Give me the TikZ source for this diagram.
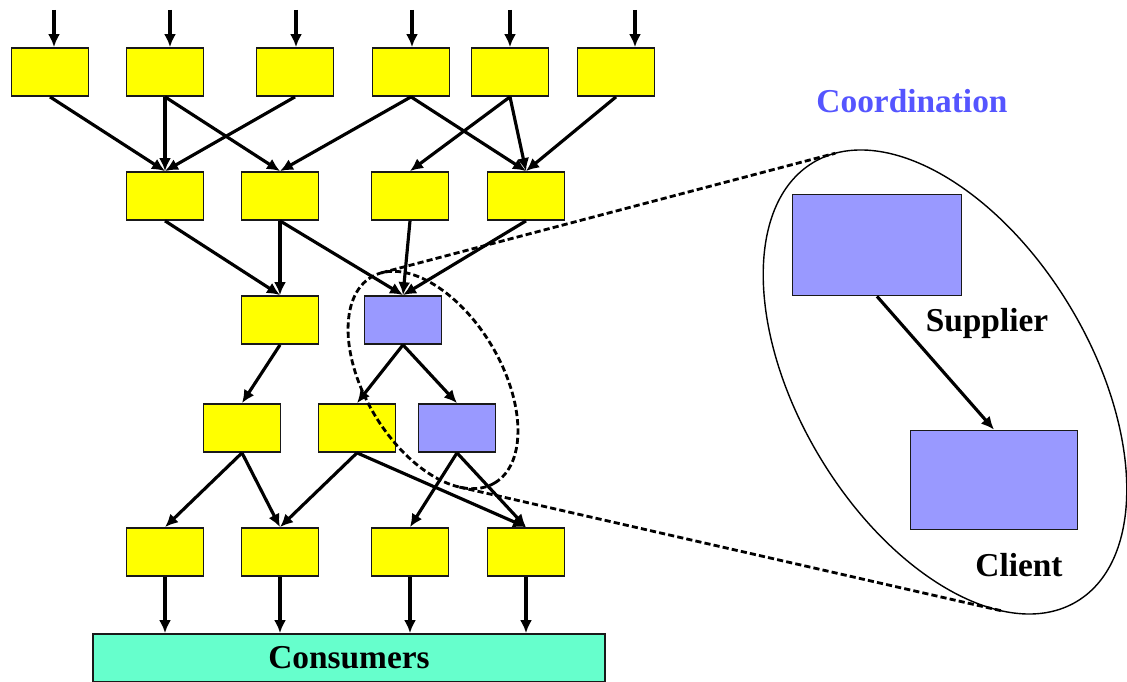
\documentclass[tikz,border=0pt]{standalone}
\usepackage{fontspec}
\setmainfont{Liberation Serif}
\usetikzlibrary{arrows.meta,positioning}
\definecolor{boxyellow}{RGB}{255,255,0}
\definecolor{boxblue}{RGB}{153,153,255}
\definecolor{consgreen}{RGB}{102,255,204}
\definecolor{coordblue}{RGB}{85,85,255}

\begin{document}
\begin{tikzpicture}[x=0.02cm,y=-0.02cm,>=Latex,
  stage/.style={draw=black!90,line width=1pt,fill=boxyellow,minimum width=1.54cm,minimum height=0.96cm,inner sep=0pt},
  coord/.style={stage,fill=boxblue},
  bigcoord/.style={draw=black!90,line width=1pt,fill=boxblue,inner sep=0pt},
  flow/.style={line width=1.8pt,-{Latex[length=2.6mm,width=2.4mm]}},
  zoomline/.style={line width=1.6pt,dash pattern=on 3.5pt off 1.8pt},
  lab/.style={font=\fontsize{19}{22}\selectfont\bfseries}]
\useasboundingbox (0,0) rectangle (1127,682);
% first stage
\node[stage] (r1a) at (50,72) {};
\node[stage] (r1b) at (165,72) {};
\node[stage] (r1c) at (295,72) {};
\node[stage] (r1d) at (411,72) {};
\node[stage] (r1e) at (510,72) {};
\node[stage] (r1f) at (616,72) {};
% second stage
\node[stage] (r2a) at (165,196) {};
\node[stage] (r2b) at (280,196) {};
\node[stage] (r2c) at (410,196) {};
\node[stage] (r2d) at (526,196) {};
% third stage
\node[stage] (r3a) at (280,320) {};
\node[coord] (r3b) at (403,320) {};
% fourth stage
\node[stage] (r4a) at (242,428) {};
\node[stage] (r4b) at (357,428) {};
\node[coord] (r4c) at (457,428) {};
% fifth stage
\node[stage] (r5a) at (165,552) {};
\node[stage] (r5b) at (280,552) {};
\node[stage] (r5c) at (410,552) {};
\node[stage] (r5d) at (526,552) {};
\node[draw=black!90,line width=1pt,fill=consgreen,minimum width=10.24cm,minimum height=0.96cm,lab] (cons) at (349,658) {Consumers};

\foreach \n/\x in {a/54,b/170,c/296,d/412,e/510,f/635}{
  \coordinate (in\n) at (\x,10);
  \draw[flow] (in\n) -- (in\n |- r1\n.north);
}
\foreach \s/\t in {r1a/r2a,r1b/r2a,r1b/r2b,r1c/r2a,r1d/r2b,r1d/r2d,r1e/r2c,r1e/r2d,r1f/r2d,
  r2a/r3a,r2b/r3a,r2b/r3b,r2c/r3b,r2d/r3b,r3a/r4a,r3b/r4b,r3b/r4c,
  r4a/r5a,r4a/r5b,r4b/r5b,r4b/r5d,r4c/r5c,r4c/r5d}
  \draw[flow] (\s.south) -- (\t.north);
\foreach \n in {a,b,c,d}
  \draw[flow] (r5\n) -- (r5\n |- cons.north);

% zoom on the coordination pair
\begin{scope}[shift={(433,380)},rotate=-59]
  \draw[zoomline] (0,0) ellipse (120 and 68);
  \coordinate (zu) at (189.4:120 and 68);
  \coordinate (zl) at (28.6:120 and 68);
\end{scope}
\begin{scope}[shift={(945,382)},rotate=-59]
  \draw[line width=0.8pt] (0,0) ellipse (256 and 146);
  \coordinate (bu) at (189.4:256 and 146);
  \coordinate (bl) at (28.6:256 and 146);
\end{scope}
\draw[zoomline] (zu) -- (bu);
\draw[zoomline] (zl) -- (bl);

\node[bigcoord,minimum width=3.38cm,minimum height=2.02cm] (sup) at (877,245) {};
\node[bigcoord,minimum width=3.34cm,minimum height=1.98cm] (cli) at (994,480) {};
\draw[flow] (sup.south) -- (cli.north);
\node[lab] (suplab) at (987,323) {Supplier};
\node[lab] (clilab) at (1019,565) {Client};
\node[lab,text=coordblue] (coordlab) at (912,101) {Coordination};
\end{tikzpicture}
\end{document}
